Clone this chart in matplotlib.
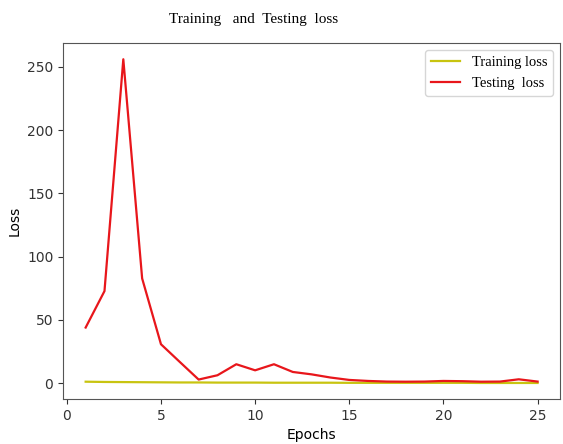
import matplotlib
matplotlib.use('Agg')
import matplotlib.pyplot as plt

epochs = list(range(1, 26))
train_loss = [1.2, 1.0, 0.9, 0.8, 0.7, 0.6, 0.6, 0.5, 0.5, 0.5, 0.4, 0.4, 0.4, 0.4, 0.3,
              0.3, 0.3, 0.3, 0.3, 0.3, 0.3, 0.2, 0.2, 0.2, 0.2]
test_loss = [44, 72.8, 256, 82.8, 30.8, 16.8, 2.9, 6.3, 15, 10.2, 15, 8.9, 7, 4.5, 2.6,
             1.8, 1.3, 1.2, 1.3, 1.8, 1.6, 1.2, 1.3, 3.1, 1.3]

fig = plt.figure(figsize=(5.63, 4.44), dpi=100)
ax = fig.add_axes([0.112, 0.101, 0.883, 0.802])

ax.plot(epochs, train_loss, color='#c8c410', lw=1.6, label='Training loss')
ax.plot(epochs, test_loss, color='#e8161b', lw=1.6, label='Testing  loss')

ax.set_xlabel('Epochs', fontsize=10)
ax.set_ylabel('Loss', fontsize=10)
for s in ax.spines.values():
    s.set_color('#555555')
ax.tick_params(colors='#333333', labelsize=10)

leg = ax.legend(loc='upper right', prop={'family': 'Liberation Serif', 'size': 10.5})
fig.text(0.45, 0.955, 'Training   and  Testing  loss', ha='center', va='center',
         family='Liberation Serif', fontsize=11)

fig.savefig('out.png', dpi=100)
